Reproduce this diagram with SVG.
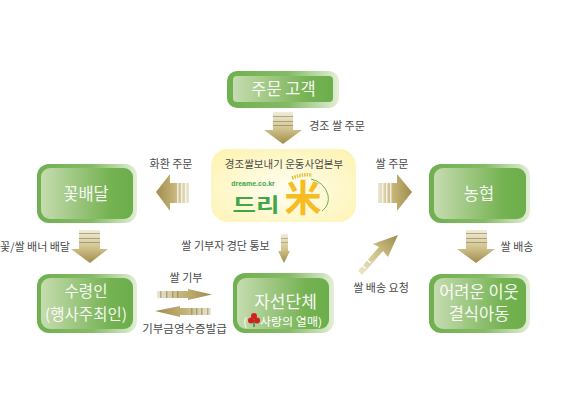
<svg xmlns="http://www.w3.org/2000/svg" width="572" height="412" viewBox="0 0 572 412">
<style>
text{font-family:"Noto Sans CJK KR","Noto Sans",sans-serif;text-anchor:middle}
.l{font-size:11px;fill:#4a4a4a}
.n{font-size:16.500px;fill:#fff;opacity:.92}
.o{fill:url(#outer)}
.i{fill:url(#inner)}
.a{fill:url(#gv);stroke:none}
.s{fill:#fff;opacity:.7}
.e{fill:#6f6a52}
</style>
<defs>
<linearGradient id="outer" x1="0" x2="1" y1="0" y2="0"><stop offset="0" stop-color="#6fb04f"/><stop offset=".55" stop-color="#84bb66"/><stop offset="1" stop-color="#e4efd8"/></linearGradient>
<linearGradient id="inner" x1="0" x2="1" y1="0" y2="0"><stop offset="0" stop-color="#c6dcb0"/><stop offset=".75" stop-color="#75b252"/><stop offset="1" stop-color="#6cae4b"/></linearGradient>
<linearGradient id="gv" x1="0" x2="0" y1="0" y2="1"><stop offset="0" stop-color="#f2ecd8"/><stop offset=".5" stop-color="#d4c690"/><stop offset="1" stop-color="#a08c4c"/></linearGradient>
<linearGradient id="gl" x1="0" x2="1" y1="0" y2="0"><stop offset="0" stop-color="#a08c4c"/><stop offset=".55" stop-color="#c4b478"/><stop offset="1" stop-color="#ece6d0"/></linearGradient>
<linearGradient id="gr" x1="1" x2="0" y1="0" y2="0"><stop offset="0" stop-color="#a08c4c"/><stop offset=".55" stop-color="#c4b478"/><stop offset="1" stop-color="#ece6d0"/></linearGradient>
<linearGradient id="gd" x1="0" x2="1" y1="1" y2="0"><stop offset="0" stop-color="#efe9d2"/><stop offset=".5" stop-color="#d0c28a"/><stop offset="1" stop-color="#a08c4c"/></linearGradient>
<radialGradient id="center" cx=".5" cy=".55" r=".7"><stop offset="0" stop-color="#fffef2"/><stop offset="1" stop-color="#fdf3b0"/></radialGradient>
</defs>

<g id="connectors">
<g id="arrow-order"><path class="a" d="M273 112H293V130H302L283 144L264 130H273Z"/><path class="e" opacity=".5" d="M273 116H293V117H273ZM273 121H293V122H273ZM273 125H293V126H273Z"/><text class="l" x="337" y="130">경조 쌀 주문</text></g>
<g id="arrow-flower"><path fill="url(#gl)" d="M156 192L170 174V183H189V203H170V211Z"/><path class="s" d="M177 183h1.500v20h-1.500zM181 183h1.500v20h-1.500zM185 183h1.500v20h-1.500z"/><text class="l" x="171" y="168">화환 주문</text></g>
<g id="arrow-rice"><path fill="url(#gr)" d="M412 192L397 174V183H378V203H397V211Z"/><path class="s" d="M382 183h1.500v20h-1.500zM386 183h1.500v20h-1.500zM390 183h1.500v20h-1.500z"/><text class="l" x="392" y="168">쌀 주문</text></g>
<g id="arrow-banner"><path class="a" d="M79 230H100V249H108L90 263L71 249H79Z"/><path class="e" opacity=".5" d="M79 233H100V234H79ZM79 238H100V239H79ZM79 242H100V243H79Z"/><text class="l" x="35" y="251">꽃/쌀 배너 배달</text></g>
<g id="arrow-ship"><path class="a" d="M466 230H487V249H495L476 263L457 249H466Z"/><path class="e" opacity=".5" d="M466 233H487V234H466ZM466 238H487V239H466ZM466 242H487V243H466Z"/><text class="l" x="517" y="251">쌀 배송</text></g>
<g id="arrow-notice"><path class="a" d="M281 234H288V251H290L284 263L278 251H281Z"/><path class="e" opacity=".4" d="M281 238h7v1h-7zM281 242h7v1h-7z"/><text class="l" x="225.500" y="250">쌀 기부자 경단 통보</text></g>
<g id="arrow-request"><path fill="url(#gd)" d="M398 235L388 257L383 251L362 275L358 271L379 247L373 244Z"/><path fill="#fff" d="M365.500 259.500L370 263.500L371 262.500L366.500 258.500ZM360.500 265L365 269L366 268L361.500 264Z"/><text class="l" x="381" y="292">쌀 배송 요청</text></g>
<g id="arrow-donate"><path fill="url(#gr)" d="M212 294.500L188 289V291H157V298H188V300Z"/><path class="e" opacity=".45" d="M160 291h1.500v7h-1.500zM166 291h1.500v7h-1.500zM172 291h1.500v7h-1.500zM177 291h1.500v7h-1.500z"/><text class="l" x="186" y="282">쌀 기부</text></g>
<g id="arrow-receipt"><path fill="url(#gl)" d="M155 311L180 306V308H211V315H180V317Z"/><path class="e" opacity=".45" d="M191 308h1.500v7h-1.500zM196 308h1.500v7h-1.500zM201 308h1.500v7h-1.500zM207 308h1.500v7h-1.500z"/><text class="l" x="184.500" y="333" style="font-size:11.500px">기부금영수증발급</text></g>
</g>

<g id="node-customer"><rect class="o" x="227" y="71" width="112" height="37" rx="10"/><rect class="i" x="233" y="76" width="100" height="26" rx="4"/><text class="n" x="283.500" y="95" style="font-size:16.500px">주문 고객</text></g>
<g id="node-flower"><rect class="o" x="37" y="164" width="100" height="59" rx="12"/><rect class="i" x="41" y="168" width="92" height="51" rx="9"/><text class="n" x="86" y="200">꽃배달</text></g>
<g id="node-recipient"><rect class="o" x="37" y="274" width="100" height="59" rx="12"/><rect class="i" x="41" y="278" width="92" height="51" rx="9"/><text class="n" x="86" y="297" style="font-size:15.500px">수령인</text><text class="n" x="86" y="320" style="font-size:15.500px">(행사주최인)</text></g>
<g id="node-charity"><rect class="o" x="233" y="273" width="101" height="60" rx="12"/><rect class="i" x="237" y="278" width="92" height="51" rx="9"/><text class="n" x="285.500" y="307.500" style="font-size:17px">자선단체</text><text x="245" y="326" style="font-size:11px;fill:#fff">(</text><text x="291" y="326" textLength="62" lengthAdjust="spacingAndGlyphs" style="font-size:11px;fill:#fff">사랑의 열매)</text>
<g><path d="M254 320v7" stroke="#3d8a3d" stroke-width="1.500"/><circle cx="254" cy="316" r="3" fill="#d02020"/><circle cx="251" cy="320.500" r="3" fill="#d02020"/><circle cx="257" cy="320.500" r="3" fill="#d02020"/></g></g>
<g id="node-nh"><rect class="o" x="429" y="164" width="101" height="59" rx="12"/><rect class="i" x="434" y="168" width="92" height="51" rx="9"/><text class="n" x="479" y="200">농협</text></g>
<g id="node-neighbors"><rect class="o" x="429" y="274" width="101" height="59" rx="12"/><rect class="i" x="434" y="278" width="92" height="51" rx="9"/><text class="n" x="479" y="298">어려운 이웃</text><text class="n" x="479" y="320">결식아동</text></g>
<g id="node-hq"><rect x="211" y="149" width="145" height="73" rx="17" fill="url(#center)"/><text class="l" x="284" y="168" style="font-size:10.500px">경조쌀보내기 운동사업본부</text>
<text x="253" y="186" style="font-size:7px;font-weight:700;fill:#3fa64a;font-family:'Liberation Sans',sans-serif">dreame.co.kr</text>
<text x="256" y="212" textLength="47" lengthAdjust="spacingAndGlyphs" style="font-size:19px;font-weight:700;fill:#3fa64a">드리</text>
<text x="303" y="212" style="font-size:37px;font-weight:700;fill:#f6bc22">米</text>
<path d="M311 179A22 22 0 0 1 328 195Q330 205 322 211" fill="none" stroke="#6cb24a" stroke-width="1"/>
<path d="M292 178Q302 174 312 175" fill="none" stroke="#e0c040" stroke-width="3.500" stroke-dasharray="1.500 1"/></g>
</svg>
